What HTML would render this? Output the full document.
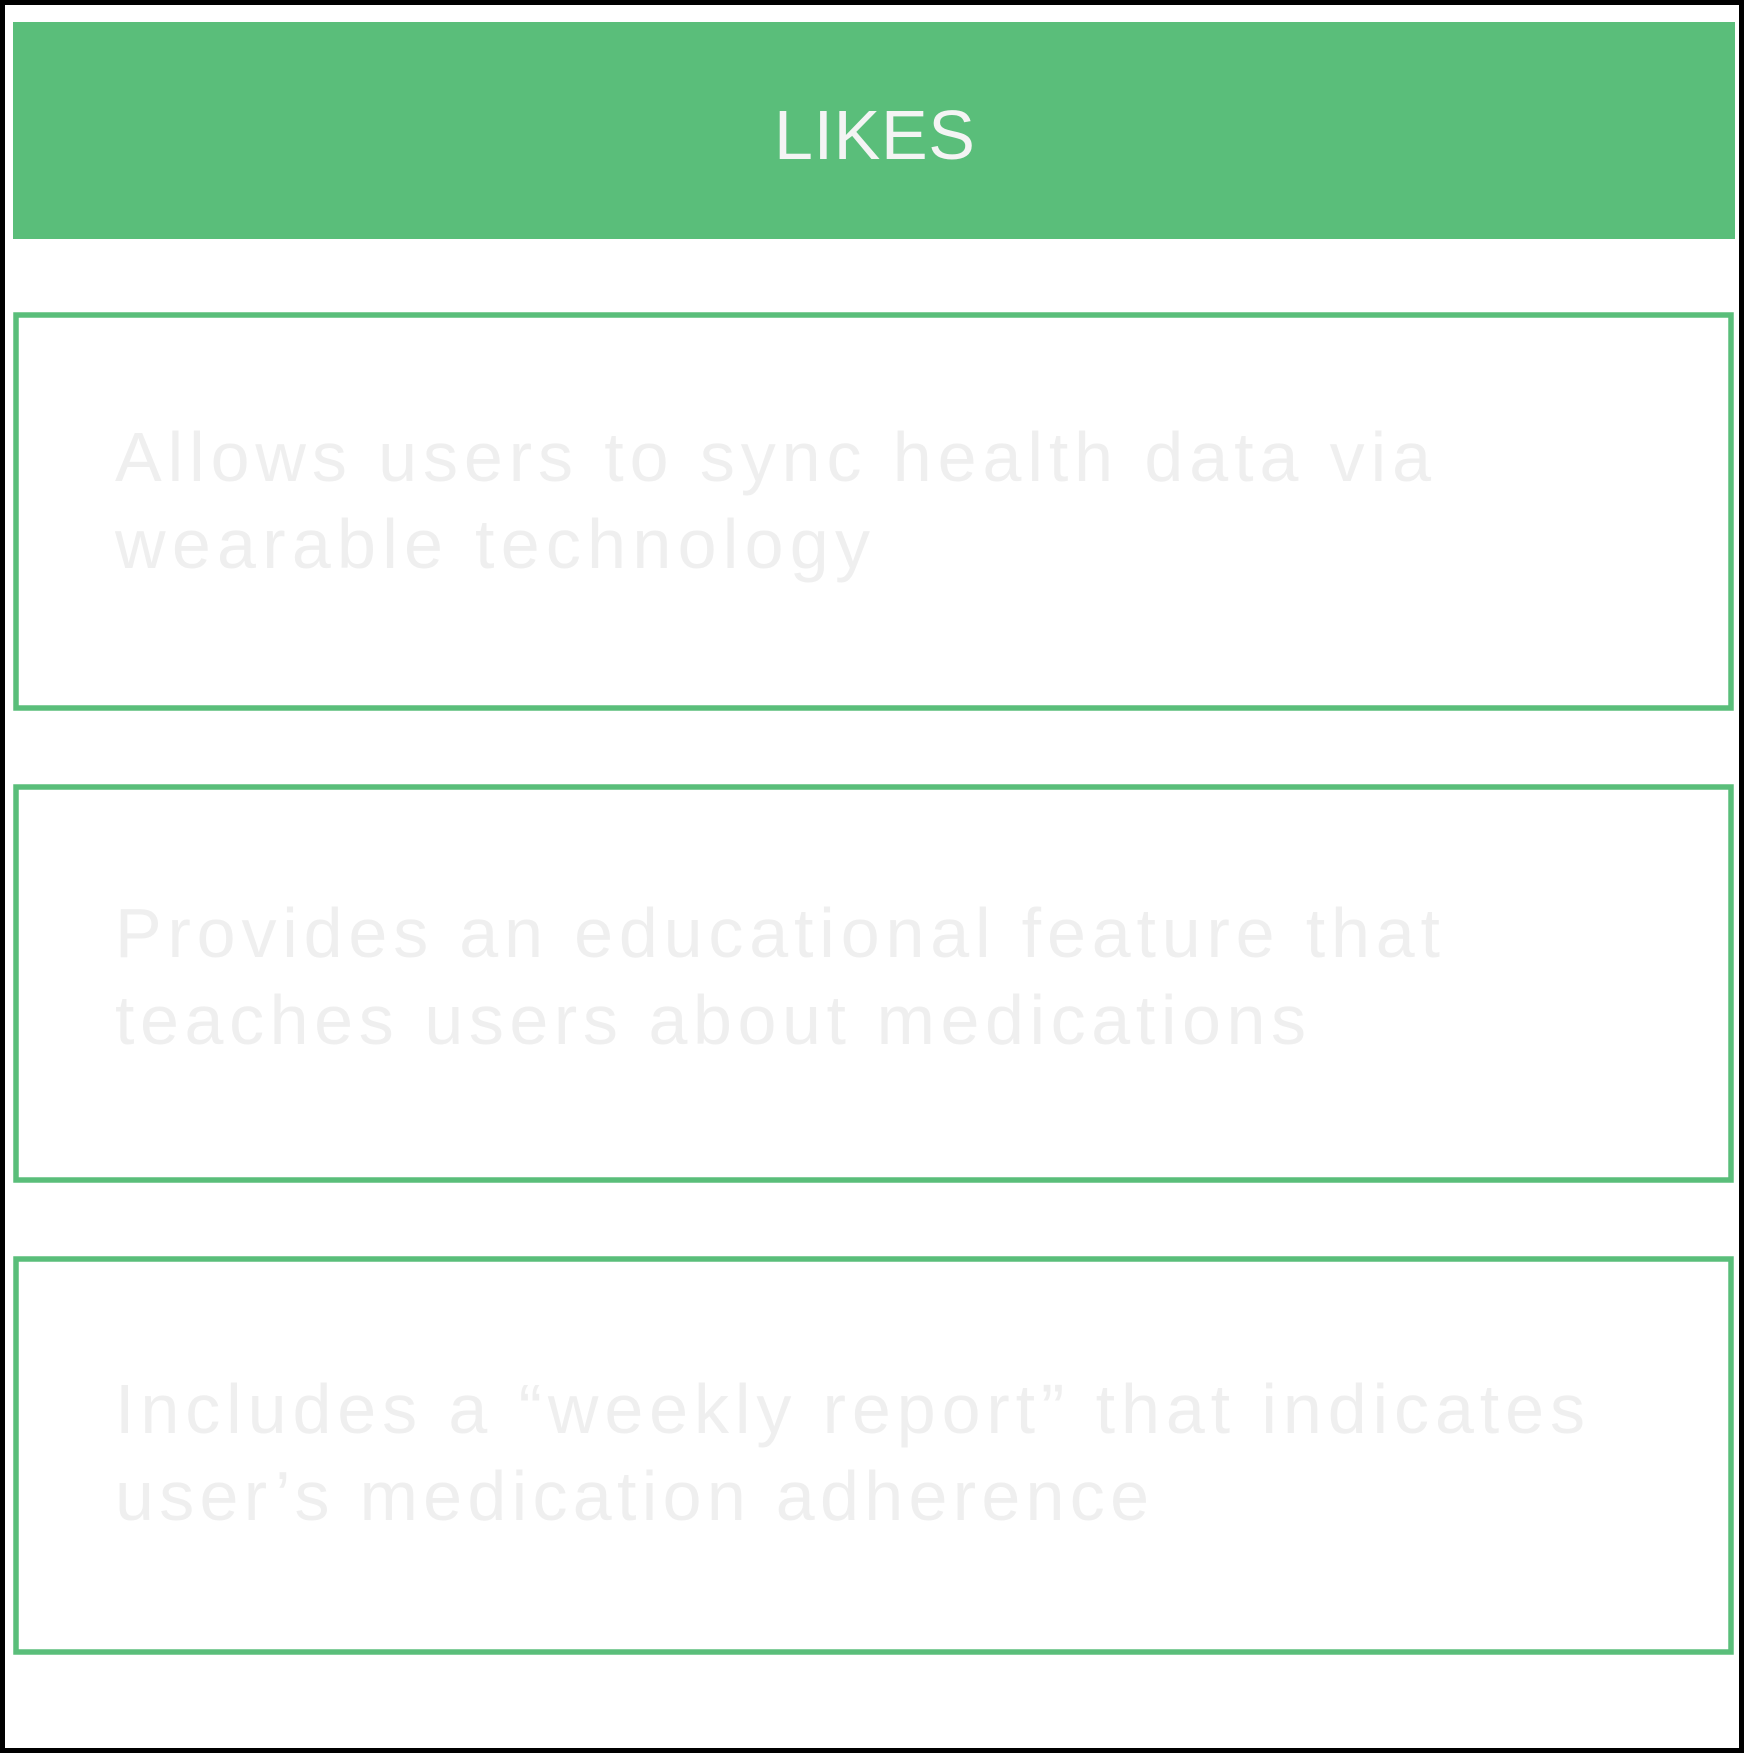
<!DOCTYPE html>
<html><head><meta charset="utf-8"><style>
html,body{margin:0;padding:0;background:#fff;}
svg{display:block;}
text{font-family:"Liberation Sans",sans-serif;}
</style></head><body>
<svg width="1744" height="1753" viewBox="0 0 1744 1753">
<rect x="2.5" y="2.5" width="1739" height="1748" fill="#fff" stroke="#000" stroke-width="5"/>
<rect x="13" y="22" width="1722" height="217" fill="#5abe7a"/>
<text x="774" y="159" font-size="70" fill="#f4f4f4" textLength="201" lengthAdjust="spacing">LIKES</text>

<g>
<rect x="16" y="315" width="1715" height="393" fill="#fff" stroke="#5abe7a" stroke-width="5.5"/>
<text x="115" y="481" font-size="70" fill="#efefef" textLength="1316" lengthAdjust="spacing">Allows users to sync health data via</text>
<text x="115" y="568" font-size="70" fill="#efefef" textLength="755" lengthAdjust="spacing">wearable technology</text>
</g>

<g>
<rect x="16" y="787" width="1715" height="393" fill="#fff" stroke="#5abe7a" stroke-width="5.5"/>
<text x="115" y="957" font-size="70" fill="#efefef" textLength="1325" lengthAdjust="spacing">Provides an educational feature that</text>
<text x="115" y="1044" font-size="70" fill="#efefef" textLength="1191" lengthAdjust="spacing">teaches users about medications</text>
</g>

<g>
<rect x="16" y="1259" width="1715" height="393" fill="#fff" stroke="#5abe7a" stroke-width="5.5"/>
<text x="115" y="1433" font-size="70" fill="#efefef" textLength="1470" lengthAdjust="spacing">Includes a “weekly report” that indicates</text>
<text x="115" y="1520" font-size="70" fill="#efefef" textLength="1034" lengthAdjust="spacing">user’s medication adherence</text>
</g>
</svg>
</body></html>
